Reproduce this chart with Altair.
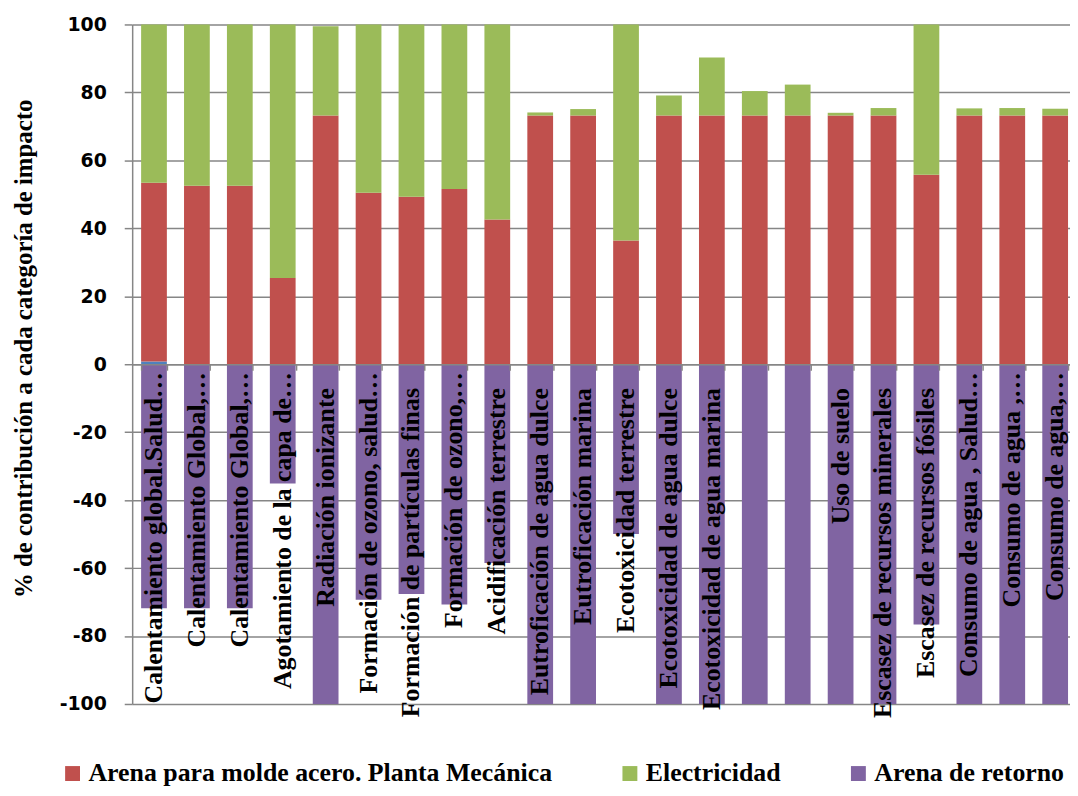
import altair as alt
import pandas as pd

categorias = [
    "Calentamiento global.Salud…",
    "Calentamiento Global,…",
    "Calentamiento Global,…",
    "Agotamiento de la capa de…",
    "Radiación ionizante",
    "Formación de ozono, salud…",
    "Formación de partículas finas",
    "Formación de ozono,…",
    "Acidificación terrestre",
    "Eutroficación de agua dulce",
    "Eutroficación marina",
    "Ecotoxicidad terrestre",
    "Ecotoxicidad de agua dulce",
    "Ecotoxicidad de agua marina",
    "",
    "",
    "Uso de suelo",
    "Escasez de recursos minerales",
    "Escasez de recursos fósiles",
    "Consumo de agua , Salud…",
    "Consumo de agua ,…",
    "Consumo de agua,…",
]

# stacked segment values (%)
otros = [0.8, 0, 0, 0, 0, 0, 0, 0, 0, 0, 0, 0, 0, 0, 0, 0, 0, 0, 0, 0, 0, 0]
arena_molde = [52.6, 52.5, 52.5, 25.4, 73.2, 50.5, 49.3, 51.6, 42.6, 73.2, 73.2,
               36.4, 73.2, 73.2, 73.2, 73.2, 73.2, 73.2, 55.8, 73.2, 73.2, 73.2]
electricidad = [46.6, 47.5, 47.5, 74.6, 26.3, 49.5, 50.7, 48.4, 57.4, 0.9, 1.9,
                63.6, 5.9, 17.1, 7.2, 9.1, 0.8, 2.2, 44.2, 2.1, 2.2, 2.0]
arena_retorno = [-71.8, -71.8, -71.8, -35.1, -100, -69.3, -67.6, -70.7, -58.5, -100, -100,
                 -50.0, -100, -100, -100, -100, -100, -100, -76.6, -100, -100, -100]

serie_names = ["Otros", "Arena para molde acero. Planta Mecánica", "Electricidad", "Arena de retorno"]
serie_colors = ["#4F81BD", "#C0504D", "#9BBB59", "#8064A2"]
legend_names = serie_names[1:]

cat_ids = [f"c{i:02d}" for i in range(len(categorias))]

rows = []
for i, cid in enumerate(cat_ids):
    for k, vals in enumerate([otros, arena_molde, electricidad, arena_retorno]):
        if vals[i] != 0:
            rows.append({"cat": cid, "serie": serie_names[k], "value": vals[i], "ord": k})
bars_df = pd.DataFrame(rows)

lab_rows = []
for cid, lab in zip(cat_ids, categorias):
    if lab:
        lab_rows.append({"cat": cid, "label": lab, "kind": "trunc" if lab.endswith("…") else "full"})
labels_df = pd.DataFrame(lab_rows)

GRID = "#868686"
TITLE = "% de contribución a cada categoría de impacto"

x_enc = alt.X(
    "cat:N", sort=cat_ids, title=None,
    scale=alt.Scale(paddingInner=0.4, paddingOuter=0.127, align=0.82),
    axis=alt.Axis(labels=False, title=None, offset=-342, tickBand="extent", tickSize=6,
                  tickColor=GRID, tickWidth=1.5, domainColor=GRID, domainWidth=1.5,
                  grid=False, zindex=1),
)

y_axis = alt.Axis(
    values=list(range(-100, 101, 20)), labelExpr="'' + datum.value",
    grid=True, gridColor=GRID, gridWidth=1.5,
    domainColor=GRID, domainWidth=1.5, tickColor=GRID, tickWidth=1.5, tickSize=8,
    labelFont="DejaVu Sans", labelFontWeight="bold", labelFontSize=19, labelColor="black",
    labelPadding=18, titleFont="Liberation Serif", titleFontWeight="bold", titleFontSize=25,
    titleColor="black", titlePadding=23, titleY=326,
)
y_scale = alt.Scale(domain=[-100, 100], nice=False)

bars = alt.Chart(bars_df).mark_bar().encode(
    x=x_enc,
    y=alt.Y("value:Q", stack="zero", scale=y_scale, axis=y_axis, title=TITLE),
    color=alt.Color(
        "serie:N",
        scale=alt.Scale(domain=serie_names, range=serie_colors),
        legend=alt.Legend(
            values=legend_names, orient="none", legendX=-73, legendY=741,
            direction="horizontal", title=None, symbolType="square", symbolSize=225,
            symbolStrokeWidth=0, labelFont="Liberation Serif", labelFontWeight="bold",
            labelFontSize=26, labelColor="black", labelLimit=700, columnPadding=65,
            labelOffset=3,
        ),
    ),
    order=alt.Order("ord:Q"),
)

def label_layer(kind, dx):
    return alt.Chart(labels_df).transform_filter(
        alt.datum.kind == kind
    ).mark_text(
        angle=270, align="right", baseline="middle", dx=dx,
        font="Liberation Serif", fontWeight="bold", fontSize=26, color="black",
    ).encode(
        x=x_enc,
        y=alt.Y(datum=0, type="quantitative", scale=y_scale, axis=y_axis, title=TITLE),
        text="label:N",
    )

chart = alt.layer(bars, label_layer("full", -24), label_layer("trunc", -8)).properties(
    width=944, height=684,
    autosize=alt.AutoSizeParams(type="none"),
    padding={"left": 125, "top": 14, "right": 0, "bottom": 82},
    background="white",
).configure_view(strokeWidth=0)

chart.save("out.html", embed_options={"renderer": "svg", "actions": False})
